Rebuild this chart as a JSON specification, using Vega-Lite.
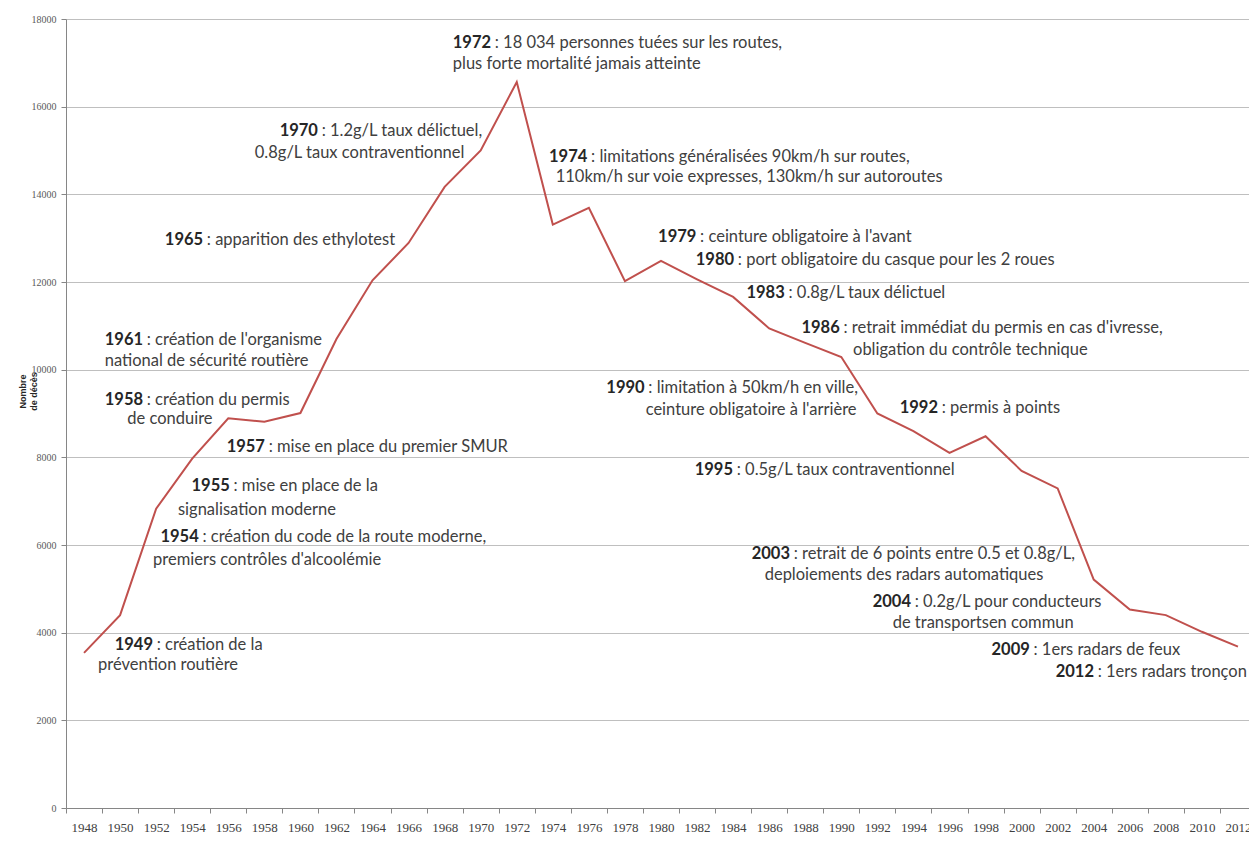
{
  "$schema": "https://vega.github.io/schema/vega-lite/v6.json",
  "width": 1190,
  "height": 789,
  "autosize": {"type": "none"},
  "padding": {"left": 66, "top": 19, "right": 0, "bottom": 39},
  "background": "white",
  "config": {"view": {"stroke": null}, "font": "Lato"},
  "datasets": {
    "deaths": [
      {"annee": 1948, "deces": 3540}, {"annee": 1950, "deces": 4400}, {"annee": 1952, "deces": 6830},
      {"annee": 1954, "deces": 7970}, {"annee": 1956, "deces": 8890}, {"annee": 1958, "deces": 8810},
      {"annee": 1960, "deces": 9010}, {"annee": 1962, "deces": 10700}, {"annee": 1964, "deces": 12040},
      {"annee": 1966, "deces": 12890}, {"annee": 1968, "deces": 14170}, {"annee": 1970, "deces": 15000},
      {"annee": 1972, "deces": 16560}, {"annee": 1974, "deces": 13310}, {"annee": 1976, "deces": 13690},
      {"annee": 1978, "deces": 12020}, {"annee": 1980, "deces": 12480}, {"annee": 1982, "deces": 12060},
      {"annee": 1984, "deces": 11660}, {"annee": 1986, "deces": 10940}, {"annee": 1988, "deces": 10610},
      {"annee": 1990, "deces": 10290}, {"annee": 1992, "deces": 9000}, {"annee": 1994, "deces": 8600},
      {"annee": 1996, "deces": 8100}, {"annee": 1998, "deces": 8480}, {"annee": 2000, "deces": 7690},
      {"annee": 2002, "deces": 7290}, {"annee": 2004, "deces": 5210}, {"annee": 2006, "deces": 4530},
      {"annee": 2008, "deces": 4400}, {"annee": 2010, "deces": 4020}, {"annee": 2012, "deces": 3680}
    ],
    "notes": [
      {"annee": 1968.45, "deces": 17455, "an": "1972", "texte": ": 18 034 personnes tuées sur les routes,"},
      {"annee": 1968.45, "deces": 16976, "an": "", "texte": "plus forte mortalité jamais atteinte"},
      {"annee": 1958.85, "deces": 15448, "an": "1970", "texte": ": 1.2g/L taux délictuel,"},
      {"annee": 1957.47, "deces": 14946, "an": "", "texte": "0.8g/L taux contraventionnel"},
      {"annee": 1952.48, "deces": 12962, "an": "1965", "texte": ": apparition des ethylotest"},
      {"annee": 1949.15, "deces": 10682, "an": "1961", "texte": ": création de l'organisme"},
      {"annee": 1949.15, "deces": 10187, "an": "", "texte": "national de sécurité routière"},
      {"annee": 1949.15, "deces": 9314, "an": "1958", "texte": ": création du permis"},
      {"annee": 1950.4, "deces": 8873, "an": "", "texte": "de conduire"},
      {"annee": 1955.91, "deces": 8242, "an": "1957", "texte": ": mise en place du premier SMUR"},
      {"annee": 1953.96, "deces": 7336, "an": "1955", "texte": ": mise en place de la"},
      {"annee": 1953.21, "deces": 6805, "an": "", "texte": "signalisation moderne"},
      {"annee": 1952.24, "deces": 6182, "an": "1954", "texte": ": création du code de la route moderne,"},
      {"annee": 1951.83, "deces": 5665, "an": "", "texte": "premiers contrôles d'alcoolémie"},
      {"annee": 1949.70, "deces": 3726, "an": "1949", "texte": ": création de la"},
      {"annee": 1948.78, "deces": 3270, "an": "", "texte": "prévention routière"},
      {"annee": 1973.79, "deces": 14862, "an": "1974", "texte": ": limitations généralisées 90km/h sur routes,"},
      {"annee": 1974.16, "deces": 14399, "an": "", "texte": "110km/h sur voie expresses, 130km/h sur autoroutes"},
      {"annee": 1979.84, "deces": 13038, "an": "1979", "texte": ": ceinture obligatoire à l'avant"},
      {"annee": 1981.93, "deces": 12506, "an": "1980", "texte": ": port obligatoire du casque pour les 2 roues"},
      {"annee": 1984.74, "deces": 11747, "an": "1983", "texte": ": 0.8g/L taux délictuel"},
      {"annee": 1987.79, "deces": 10949, "an": "1986", "texte": ": retrait immédiat du permis en cas d'ivresse,"},
      {"annee": 1990.65, "deces": 10454, "an": "", "texte": "obligation du contrôle technique"},
      {"annee": 1976.97, "deces": 9580, "an": "1990", "texte": ": limitation à 50km/h en ville,"},
      {"annee": 1979.15, "deces": 9085, "an": "", "texte": "ceinture obligatoire à l'arrière"},
      {"annee": 1993.24, "deces": 9124, "an": "1992", "texte": ": permis à points"},
      {"annee": 1981.87, "deces": 7717, "an": "1995", "texte": ": 0.5g/L taux contraventionnel"},
      {"annee": 1985.03, "deces": 5802, "an": "2003", "texte": ": retrait de 6 points entre 0.5 et 0.8g/L,"},
      {"annee": 1985.75, "deces": 5323, "an": "", "texte": "deploiements des radars automatiques"},
      {"annee": 1991.74, "deces": 4707, "an": "2004", "texte": ": 0.2g/L pour conducteurs"},
      {"annee": 1992.85, "deces": 4228, "an": "", "texte": "de transportsen commun"},
      {"annee": 1998.33, "deces": 3612, "an": "2009", "texte": ": 1ers radars de feux"},
      {"annee": 2001.89, "deces": 3095, "an": "2012", "texte": ": 1ers radars tronçon"}
    ]
  },
  "encoding": {
    "x": {
      "field": "annee",
      "type": "quantitative",
      "scale": {"domain": [1947, 2013], "nice": false, "zero": false},
      "axis": {
        "title": null,
        "values": [1947,1948,1949,1950,1951,1952,1953,1954,1955,1956,1957,1958,1959,1960,1961,1962,1963,1964,1965,1966,1967,1968,1969,1970,1971,1972,1973,1974,1975,1976,1977,1978,1979,1980,1981,1982,1983,1984,1985,1986,1987,1988,1989,1990,1991,1992,1993,1994,1995,1996,1997,1998,1999,2000,2001,2002,2003,2004,2005,2006,2007,2008,2009,2010,2011,2012,2013],
        "format": "d",
        "labelExpr": "datum.value % 2 === 0 ? datum.label : ''",
        "tickOpacity": {"condition": {"test": "datum.value % 2 === 1", "value": 1}, "value": 0},
        "grid": false,
        "labelFont": "Liberation Serif",
        "labelFontSize": 13,
        "labelColor": "#404040",
        "labelPadding": 8,
        "labelOverlap": false,
        "labelFlush": false,
        "labelBound": false,
        "tickSize": 5,
        "tickColor": "#868686",
        "domainColor": "#868686"
      }
    },
    "y": {
      "field": "deces",
      "type": "quantitative",
      "scale": {"domain": [0, 18000], "nice": false},
      "axis": {
        "title": ["Nombre", "de décès"],
        "titleFont": "Liberation Sans",
        "titleFontSize": 9,
        "titleFontWeight": "bold",
        "titleColor": "#262626",
        "titleAngle": -90,
        "titleBaseline": "top",
        "titleAlign": "center",
        "titleX": -48,
        "titleY": 372,
        "values": [0, 2000, 4000, 6000, 8000, 10000, 12000, 14000, 16000, 18000],
        "format": "d",
        "grid": true,
        "gridColor": "#BFBFBF",
        "gridWidth": 1,
        "labelFont": "Liberation Serif",
        "labelFontSize": 10,
        "labelColor": "#595959",
        "labelPadding": 5,
        "tickSize": 5,
        "tickColor": "#868686",
        "domainColor": "#868686"
      }
    }
  },
  "layer": [
    {
      "data": {"name": "deaths"},
      "mark": {"type": "line", "color": "#C0504D", "strokeWidth": 2}
    },
    {
      "data": {"name": "notes"},
      "mark": {"type": "text", "align": "left", "baseline": "middle", "font": "Lato", "fontSize": 16.5, "fontWeight": "bold", "color": "#262626"},
      "encoding": {"text": {"field": "an"}}
    },
    {
      "data": {"name": "notes"},
      "transform": [{"filter": "datum.an != ''"}],
      "mark": {"type": "text", "align": "left", "baseline": "middle", "font": "Lato", "fontSize": 16.5, "color": "#404040", "dx": 42},
      "encoding": {"text": {"field": "texte"}}
    },
    {
      "data": {"name": "notes"},
      "transform": [{"filter": "datum.an == ''"}],
      "mark": {"type": "text", "align": "left", "baseline": "middle", "font": "Lato", "fontSize": 16.5, "color": "#404040"},
      "encoding": {"text": {"field": "texte"}}
    }
  ]
}
